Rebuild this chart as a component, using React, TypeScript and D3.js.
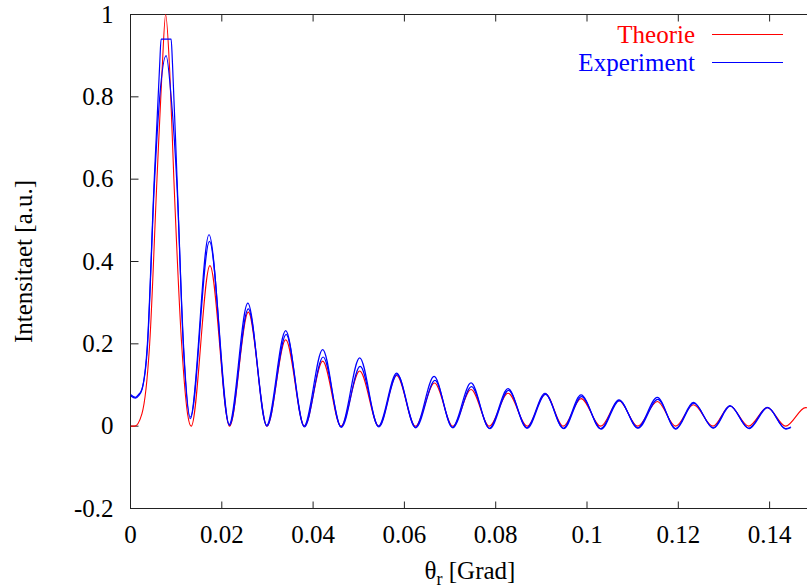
import React, { useEffect, useRef } from "react";
import * as d3 from "d3";

// theta_r [Grad], intensity [a.u.] (peaks, troughs, flanks)
const theorie = [
  [0, 0], [0.0009, 0], [0.0025, 0.03], [0.0042, 0.2], [0.0058, 0.6], [0.0069, 0.86],
  [0.0077, 1.0], [0.0086, 0.86], [0.0095, 0.6], [0.0112, 0.2], [0.0125, 0.03], [0.0133, 0],
  [0.0174, 0.39], [0.0217, 0], [0.0258, 0.277], [0.0299, 0], [0.034, 0.21], [0.0381, 0],
  [0.0421, 0.158], [0.0461, 0], [0.0502, 0.134], [0.0544, 0], [0.0583, 0.123], [0.0624, 0],
  [0.0666, 0.105], [0.0706, 0], [0.0746, 0.089], [0.0786, 0], [0.0827, 0.08], [0.0869, 0],
  [0.0909, 0.078], [0.0948, 0], [0.0987, 0.067], [0.103, 0], [0.107, 0.062], [0.1111, 0],
  [0.1154, 0.06], [0.1194, 0], [0.1233, 0.052], [0.1276, 0], [0.1313, 0.049], [0.1354, 0],
  [0.1395, 0.045], [0.1435, 0], [0.1479, 0.045], [0.1495, 0.04]
];

// two measured runs, the first one saturated at the main peak
const experimentA = [
  [0, 0.077], [0.0011, 0.07], [0.0017, 0.076], [0.0025, 0.09], [0.0037, 0.2], [0.0052, 0.6],
  [0.0064, 0.88], [0.0067, 0.94], [0.0089, 0.94], [0.0092, 0.88], [0.0102, 0.6], [0.0116, 0.2],
  [0.0131, 0.022], [0.0172, 0.465], [0.0216, 0.004], [0.0257, 0.299], [0.0298, 0.002],
  [0.034, 0.232], [0.038, 0], [0.0421, 0.186], [0.0461, -0.002], [0.0502, 0.166],
  [0.0543, 0], [0.0583, 0.129], [0.0624, -0.003], [0.0665, 0.121], [0.0705, -0.003],
  [0.0746, 0.105], [0.0786, -0.005], [0.0827, 0.091], [0.0868, -0.004], [0.0908, 0.08],
  [0.0948, -0.005], [0.0987, 0.076], [0.103, -0.006], [0.107, 0.064], [0.1111, -0.004],
  [0.1154, 0.07], [0.1194, -0.006], [0.1233, 0.058], [0.1276, -0.004], [0.1313, 0.05],
  [0.1354, -0.005], [0.1395, 0.046], [0.1435, -0.006], [0.1447, -0.002]
];

const experimentB = [
  [0, 0.074], [0.0011, 0.068], [0.0018, 0.074], [0.0025, 0.088], [0.0037, 0.19], [0.0052, 0.58],
  [0.0064, 0.8], [0.0078, 0.9], [0.0089, 0.8], [0.0102, 0.58], [0.0116, 0.19], [0.0131, 0.018],
  [0.0173, 0.449], [0.0217, 0.002], [0.0258, 0.285], [0.0299, 0], [0.0341, 0.223],
  [0.0381, -0.002], [0.0422, 0.168], [0.0462, -0.003], [0.0503, 0.145], [0.0544, -0.002],
  [0.0584, 0.125], [0.0625, -0.004], [0.0667, 0.111], [0.0706, -0.004], [0.0747, 0.096],
  [0.0787, -0.006], [0.0828, 0.087], [0.0869, -0.005], [0.0909, 0.077], [0.0949, -0.006],
  [0.0988, 0.072], [0.1031, -0.007], [0.1071, 0.062], [0.1112, -0.005], [0.1155, 0.065],
  [0.1195, -0.007], [0.1234, 0.056], [0.1277, -0.005], [0.1314, 0.049], [0.1355, -0.006],
  [0.1396, 0.045], [0.1436, -0.007], [0.1446, -0.004]
];

const xTicks = [0, 0.02, 0.04, 0.06, 0.08, 0.1, 0.12, 0.14];
const yTicks = [-0.2, 0, 0.2, 0.4, 0.6, 0.8, 1];

const FONT = "Liberation Serif, DejaVu Serif, serif";

export default function App() {
  const ref = useRef(null);

  useEffect(() => {
    const svg = d3.select(ref.current);
    svg.selectAll("*").remove();

    const x = d3.scaleLinear().domain([0, 0.1483]).range([130.5, 807.5]);
    const y = d3.scaleLinear().domain([-0.2, 1]).range([508.5, 14.5]);

    svg.append("defs")
      .append("clipPath")
      .attr("id", "plotclip")
      .append("rect")
      .attr("x", 130.5)
      .attr("y", 14)
      .attr("width", 680)
      .attr("height", 495);

    // axes, ticks pointing inward
    const bottom = svg.append("g")
      .attr("transform", "translate(0," + y(-0.2) + ")")
      .call(d3.axisBottom(x).tickValues(xTicks).tickFormat(String)
        .tickSizeInner(-7).tickSizeOuter(0).tickPadding(17).offset(0));
    const left = svg.append("g")
      .attr("transform", "translate(" + x(0) + ",0)")
      .call(d3.axisLeft(y).tickValues(yTicks).tickFormat(String)
        .tickSizeInner(-8).tickSizeOuter(0).tickPadding(17).offset(0));
    const top = svg.append("g")
      .attr("transform", "translate(0," + y(1) + ")")
      .call(d3.axisTop(x).tickValues(xTicks).tickFormat(() => "")
        .tickSizeInner(-7).tickSizeOuter(0).offset(0));

    [bottom, left, top].forEach(g => {
      g.select(".domain").remove();
      g.attr("font-family", null).attr("font-size", null);
      g.selectAll("line").attr("stroke", "#222");
      g.selectAll("text")
        .attr("fill", "#000")
        .style("font-family", FONT)
        .style("font-size", "25px");
    });

    svg.append("rect")
      .attr("x", 130.5)
      .attr("y", 14.5)
      .attr("width", 700)
      .attr("height", 494)
      .attr("fill", "none")
      .attr("stroke", "#222");

    const line = d3.line()
      .x(d => x(d[0]))
      .y(d => y(d[1]))
      .curve(d3.curveMonotoneX);

    const plot = svg.append("g").attr("clip-path", "url(#plotclip)");
    plot.append("path").datum(theorie)
      .attr("d", line).attr("fill", "none").attr("stroke", "#ff0000").attr("stroke-width", 1.1);
    [experimentA, experimentB].forEach(run => {
      plot.append("path").datum(run)
        .attr("d", line).attr("fill", "none").attr("stroke", "#0000ff").attr("stroke-width", 1.2);
    });

    // legend
    const legend = [
      { label: "Theorie", color: "#ff0000", y: 43 },
      { label: "Experiment", color: "#0000ff", y: 71 }
    ];
    legend.forEach(item => {
      svg.append("text")
        .attr("x", 695).attr("y", item.y)
        .attr("text-anchor", "end")
        .style("font-family", FONT).style("font-size", "25px")
        .attr("fill", item.color)
        .text(item.label);
      svg.append("line")
        .attr("x1", 712).attr("x2", 783)
        .attr("y1", item.y - 8.5).attr("y2", item.y - 8.5)
        .attr("stroke", item.color).attr("stroke-width", 1.1);
    });

    // axis titles
    svg.append("text")
      .attr("transform", "translate(32,261.5) rotate(-90)")
      .attr("text-anchor", "middle")
      .style("font-family", FONT).style("font-size", "25px")
      .text("Intensitaet [a.u.]");

    const xt = svg.append("text")
      .attr("x", 470).attr("y", 579)
      .attr("text-anchor", "middle")
      .style("font-family", FONT).style("font-size", "25px");
    xt.append("tspan").text("θ");
    xt.append("tspan").style("font-size", "18px").attr("dy", 6).text("r");
    xt.append("tspan").attr("dy", -6).text(" [Grad]");
  }, []);

  return (
    <svg
      ref={ref}
      width={807}
      height={588}
      style={{ position: "absolute", left: 0, top: 0, background: "#fff", fontFamily: FONT }}
    />
  );
}
